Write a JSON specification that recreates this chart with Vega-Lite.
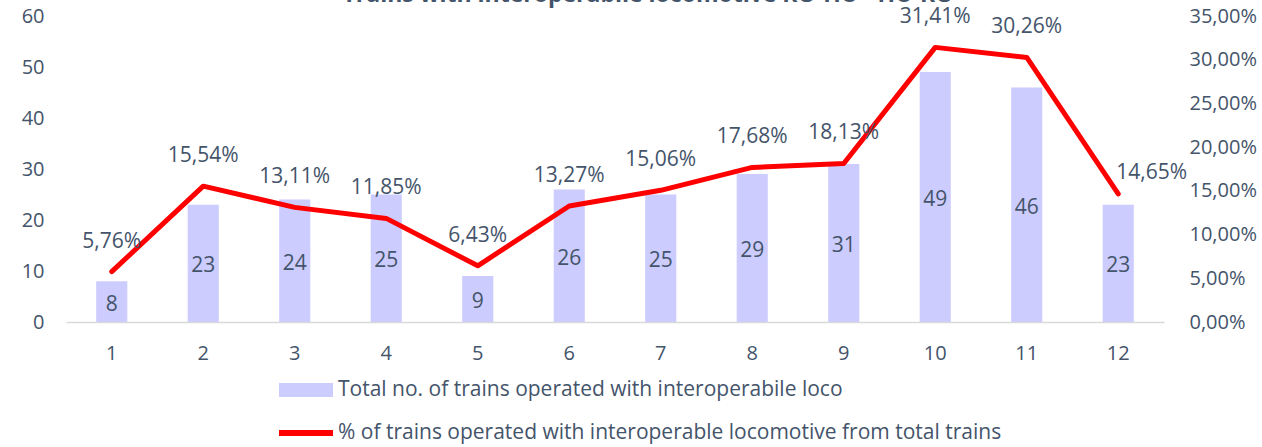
{
  "$schema": "https://vega.github.io/schema/vega-lite/v6.json",
  "width": 1098,
  "height": 306,
  "autosize": {"type": "none"},
  "padding": {"left": 66, "top": 16, "right": 98, "bottom": 125},
  "background": "white",
  "title": {"text": "Trains with interoperabile locomotive RO-HU - HU-RO", "fontSize": 23, "font": "Open Sans", "fontWeight": "bold", "color": "#44546A", "anchor": "middle", "offset": -1, "dx": 33},
  "data": {"values": [
    {"month": 1, "trains": 8, "pct": 0.0576},
    {"month": 2, "trains": 23, "pct": 0.1554},
    {"month": 3, "trains": 24, "pct": 0.1311},
    {"month": 4, "trains": 25, "pct": 0.1185},
    {"month": 5, "trains": 9, "pct": 0.0643},
    {"month": 6, "trains": 26, "pct": 0.1327},
    {"month": 7, "trains": 25, "pct": 0.1506},
    {"month": 8, "trains": 29, "pct": 0.1768},
    {"month": 9, "trains": 31, "pct": 0.1813},
    {"month": 10, "trains": 49, "pct": 0.3141},
    {"month": 11, "trains": 46, "pct": 0.3026},
    {"month": 12, "trains": 23, "pct": 0.1465}
  ]},
  "encoding": {
    "x": {"field": "month", "type": "ordinal",
      "scale": {"paddingInner": 0.66, "paddingOuter": 0.33},
      "axis": {"title": null, "labelAngle": 0, "ticks": false, "domainColor": "#D9D9D9", "domainWidth": 1.3, "labelPadding": 21, "grid": false}}
  },
  "layer": [
    {"mark": {"type": "bar"},
     "encoding": {
       "y": {"field": "trains", "type": "quantitative", "scale": {"domain": [0, 60]},
         "axis": {"orient": "left", "title": null, "values": [0, 10, 20, 30, 40, 50, 60], "grid": false, "domain": false, "ticks": false, "labelPadding": 22}},
       "color": {"datum": "Total no. of trains operated with interoperabile loco",
         "scale": {"domain": ["Total no. of trains operated with interoperabile loco", "% of trains operated with interoperable locomotive from total trains"], "range": ["#CCCCFF", "#FF0000"]},
         "legend": {"orient": "none", "legendX": 213, "legendY": 347, "direction": "vertical", "title": null, "labelFontSize": 21, "labelColor": "#44546A", "labelFont": "Open Sans", "symbolSize": 2916, "symbolStrokeWidth": 0, "labelOffset": 5, "rowPadding": 6, "labelLimit": 1000,
           "encode": {"symbols": {"update": {
             "shape": {"signal": "indexof(datum.value, 'Total') === 0 ? 'M-1,-0.26H1V0.26H-1Z' : 'M-1,-0.11H1V0.11H-1Z'"},
             "fill": {"signal": "scale('color', datum.value)"},
             "stroke": {"value": "transparent"},
             "opacity": {"value": 1}}}}}}
     }},
    {"mark": {"type": "text", "fontSize": 21, "font": "Open Sans", "color": "#44546A", "baseline": "middle", "dy": 3},
     "encoding": {
       "y": {"field": "trains", "type": "quantitative", "scale": {"domain": [0, 120]}, "axis": null},
       "text": {"field": "trains", "type": "quantitative"}
     }},
    {"layer": [
      {"mark": {"type": "line", "strokeWidth": 5, "strokeJoin": "round", "strokeCap": "round"},
       "encoding": {
         "y": {"field": "pct", "type": "quantitative", "scale": {"domain": [0, 0.35]},
           "axis": {"orient": "right", "title": null, "format": ".2%", "values": [0, 0.05, 0.1, 0.15, 0.2, 0.25, 0.3, 0.35], "grid": false, "domain": false, "ticks": false, "labelPadding": 25}},
         "color": {"datum": "% of trains operated with interoperable locomotive from total trains"}
       }},
      {"transform": [{"filter": "datum.month != 12"}],
       "mark": {"type": "text", "fontSize": 21, "font": "Open Sans", "color": "#44546A", "baseline": "middle", "dy": -30},
       "encoding": {
         "y": {"field": "pct", "type": "quantitative"},
         "text": {"field": "pct", "type": "quantitative", "format": ".2%"}
       }},
      {"transform": [{"filter": "datum.month == 12"}],
       "mark": {"type": "text", "fontSize": 21, "font": "Open Sans", "color": "#44546A", "baseline": "middle", "align": "left", "dx": -2, "dy": -21},
       "encoding": {
         "y": {"field": "pct", "type": "quantitative"},
         "text": {"field": "pct", "type": "quantitative", "format": ".2%"}
       }}
    ]}
  ],
  "resolve": {"scale": {"y": "independent"}},
  "config": {
    "locale": {"number": {"decimal": ",", "thousands": ".", "grouping": [3], "currency": ["", " €"]}},
    "font": "Open Sans",
    "view": {"stroke": null},
    "axis": {"labelFont": "Open Sans", "labelFontSize": 20, "labelColor": "#44546A"}
  }
}
